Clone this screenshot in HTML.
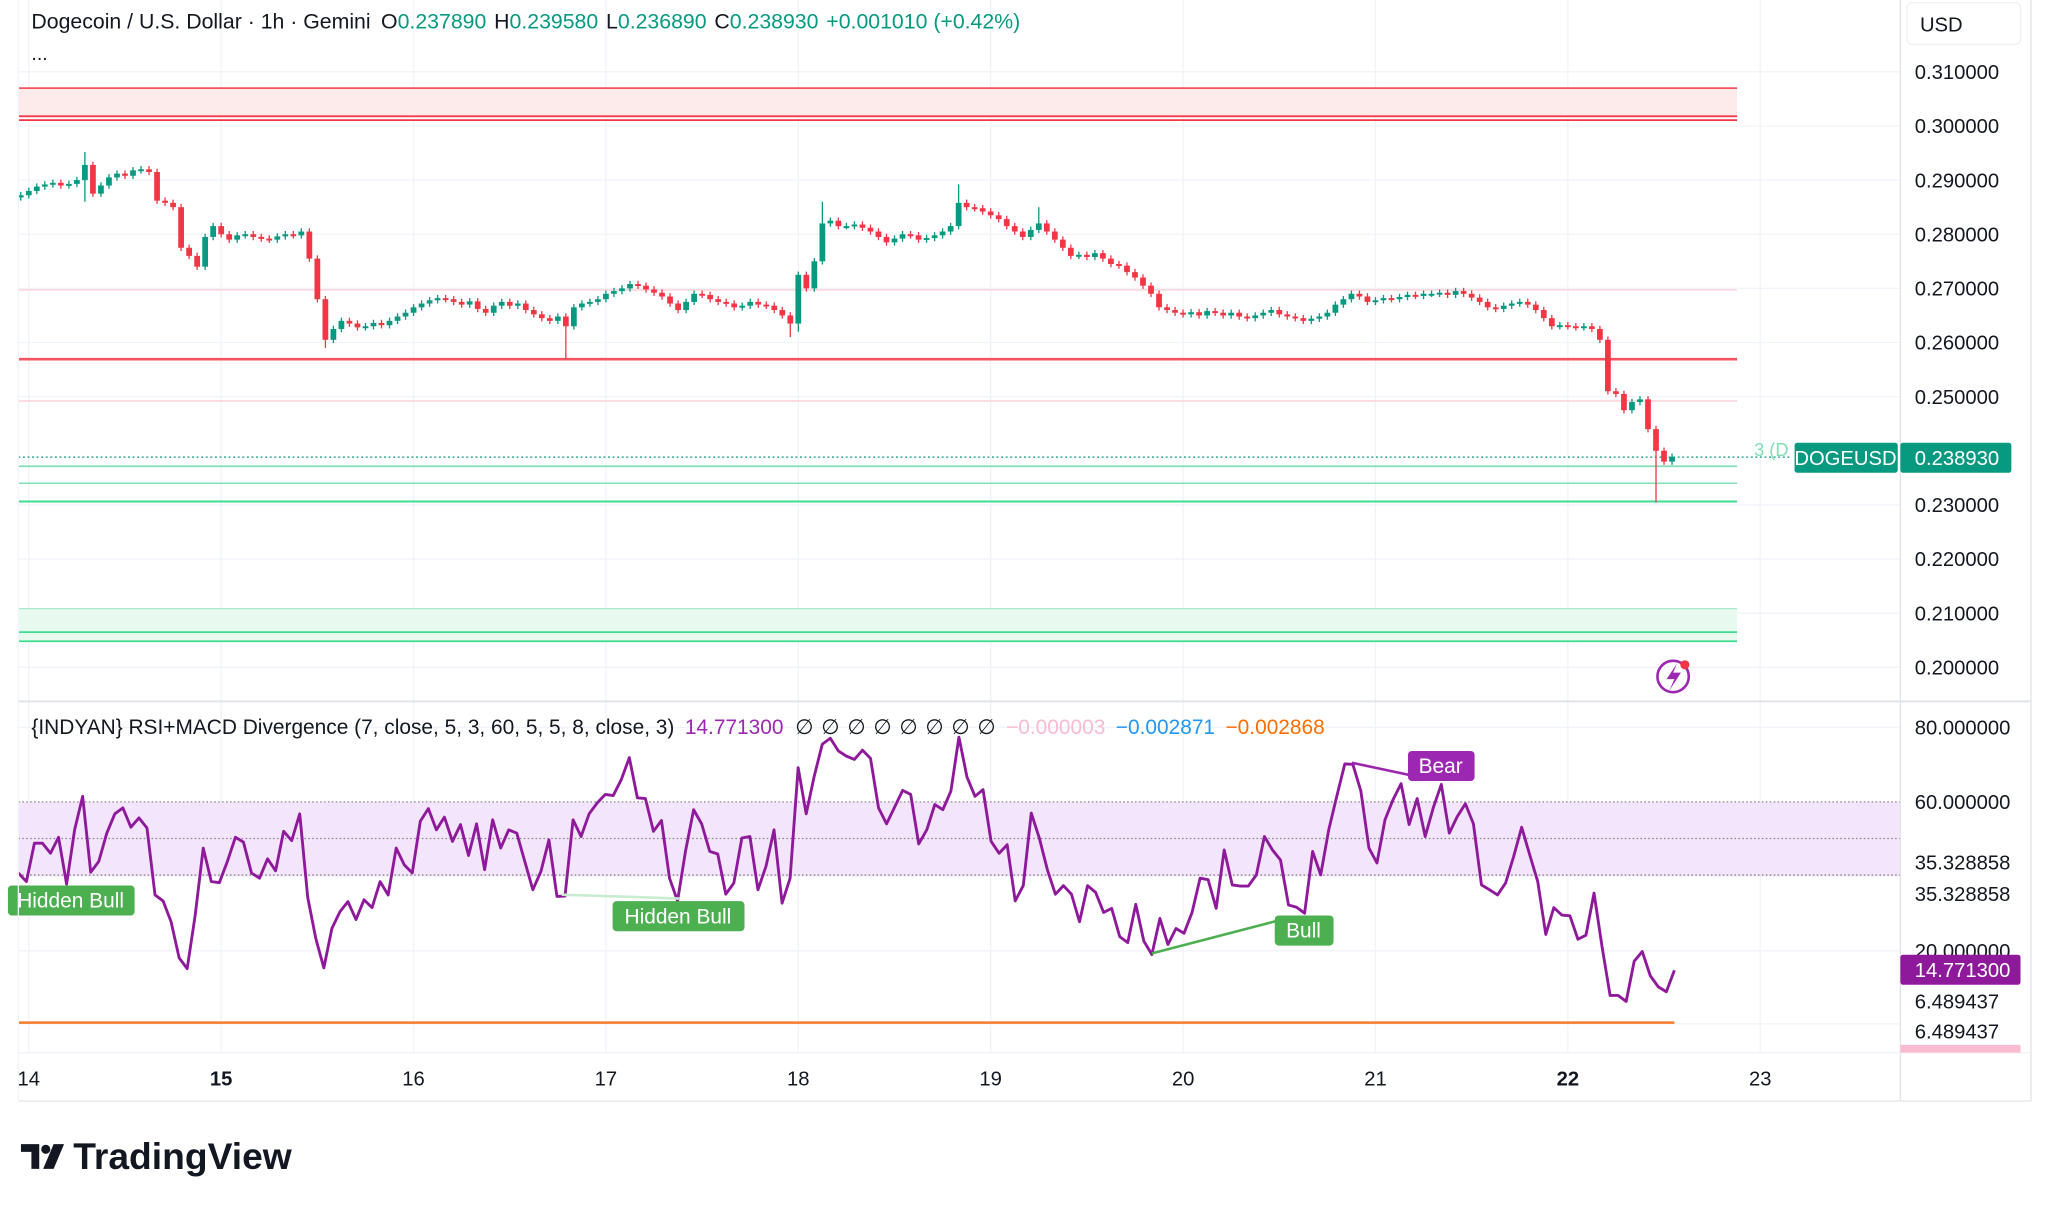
<!DOCTYPE html>
<html><head><meta charset="utf-8"><title>DOGEUSD chart</title>
<style>
html,body{margin:0;padding:0;background:#fff;}
svg{display:block;font-family:"Liberation Sans",sans-serif;}
</style></head>
<body>
<svg id="chart" width="2048" height="1209" viewBox="0 0 1568 925.7" xmlns="http://www.w3.org/2000/svg">
<rect x="0" y="0" width="1568" height="926" fill="#ffffff"/>
<g id="grid"></g>
<g id="levels">
  <rect x="14" y="67" width="1316" height="23" fill="#fdeaea"/>
  <line x1="14" y1="67.5" x2="1330" y2="67.5" stroke="#f7525f" stroke-width="1.3"/>
  <line x1="14" y1="89" x2="1330" y2="89" stroke="#f23645" stroke-width="1.3"/>
  <line x1="14" y1="92" x2="1330" y2="92" stroke="#f23645" stroke-width="1.3"/>
  <line x1="14" y1="222" x2="1330" y2="222" stroke="#fbd5d8" stroke-width="1.3"/>
  <line x1="14" y1="275" x2="1330" y2="275" stroke="#f7525f" stroke-width="2"/>
  <line x1="14" y1="307" x2="1330" y2="307" stroke="#fbd5d8" stroke-width="1.3"/>
  <line x1="14" y1="350" x2="1372" y2="350" stroke="#089981" stroke-width="1" stroke-dasharray="1.5,2"/>
  <line x1="14" y1="357" x2="1330" y2="357" stroke="#7fe0b4" stroke-width="1.3"/>
  <line x1="14" y1="370" x2="1330" y2="370" stroke="#7fe0b4" stroke-width="1.1"/>
  <line x1="14" y1="384" x2="1330" y2="384" stroke="#3ddc8f" stroke-width="1.5"/>
  <rect x="14" y="466" width="1316" height="25" fill="#e8f9ef"/>
  <line x1="14" y1="466" x2="1330" y2="466" stroke="#a6ecc8" stroke-width="1"/>
  <line x1="14" y1="484" x2="1330" y2="484" stroke="#3ddc8f" stroke-width="1.3"/>
  <line x1="14" y1="491" x2="1330" y2="491" stroke="#3ddc8f" stroke-width="1.3"/>
</g>
<g id="candles"></g>
<g id="indicator">
  <rect x="14" y="614" width="1441" height="57" fill="#f3e5fc"/>
  <line x1="14" y1="614" x2="1455" y2="614" stroke="#888" stroke-width="1" stroke-dasharray="1.2,1.8"/>
  <line x1="14" y1="642" x2="1455" y2="642" stroke="#888" stroke-width="1" stroke-dasharray="1.2,1.8"/>
  <line x1="14" y1="670" x2="1455" y2="670" stroke="#888" stroke-width="1" stroke-dasharray="1.2,1.8"/>
  <line x1="14" y1="783" x2="1282" y2="783" stroke="#f57c2c" stroke-width="2"/>
</g>
<g id="rsi"></g>
<g id="annotations">
  <line x1="430" y1="685" x2="520" y2="688" stroke="#c8ecd0" stroke-width="2"/>
  <line x1="882" y1="730" x2="978" y2="705" stroke="#4caf50" stroke-width="2"/>
  <line x1="1035" y1="584" x2="1082" y2="594" stroke="#9c27b0" stroke-width="2"/>
  <g><rect x="6" y="678" width="97" height="23" rx="3" fill="#4caf50"/><text x="54" y="695" font-size="16" fill="#fff" text-anchor="middle">Hidden Bull</text></g>
  <g><rect x="469" y="690" width="101" height="23" rx="3" fill="#4caf50"/><text x="519" y="707" font-size="16" fill="#fff" text-anchor="middle">Hidden Bull</text></g>
  <g><rect x="976" y="701" width="45" height="23" rx="3" fill="#4caf50"/><text x="998" y="718" font-size="16" fill="#fff" text-anchor="middle">Bull</text></g>
  <g><rect x="1078" y="575" width="51" height="23" rx="3" fill="#9c27b0"/><text x="1103" y="592" font-size="16" fill="#fff" text-anchor="middle">Bear</text></g>
</g>
<line x1="14" y1="537" x2="1555" y2="537" stroke="#e0e3eb" stroke-width="1.5"/>
<line x1="1455" y1="0" x2="1455" y2="843" stroke="#e0e3eb" stroke-width="1"/>
<line x1="1555" y1="0" x2="1555" y2="843" stroke="#e0e3eb" stroke-width="1"/>
<line x1="14" y1="806" x2="1555" y2="806" stroke="#f0f3fa" stroke-width="1"/>
<line x1="14" y1="843" x2="1555" y2="843" stroke="#e0e3eb" stroke-width="1"/>
<line x1="14" y1="0" x2="14" y2="843" stroke="#f0f3fa" stroke-width="1"/>
<g id="axes"></g>
<text x="24" y="22" font-size="16.3" fill="#131722">Dogecoin / U.S. Dollar · 1h · Gemini<tspan dx="8">O</tspan><tspan fill="#089981">0.237890</tspan><tspan dx="6">H</tspan><tspan fill="#089981">0.239580</tspan><tspan dx="6">L</tspan><tspan fill="#089981">0.236890</tspan><tspan dx="6">C</tspan><tspan fill="#089981">0.238930</tspan><tspan dx="6" fill="#089981">+0.001010 (+0.42%)</tspan></text>
<text x="24" y="46" font-size="15" fill="#131722">...</text>
<g><rect x="1460" y="2" width="87" height="32" rx="4" fill="#fff" stroke="#eef0f3"/><text x="1470" y="24" font-size="15.5" fill="#131722">USD</text></g>
<text x="24" y="562" font-size="16" fill="#131722">{INDYAN} RSI+MACD Divergence (7, close, 5, 3, 60, 5, 5, 8, close, 3)<tspan dx="8" fill="#9c27b0">14.771300</tspan><tspan dx="9">∅</tspan><tspan dx="6">∅</tspan><tspan dx="6">∅</tspan><tspan dx="6">∅</tspan><tspan dx="6">∅</tspan><tspan dx="6">∅</tspan><tspan dx="6">∅</tspan><tspan dx="6">∅</tspan><tspan dx="8" fill="#f8bbd0">−0.000003</tspan><tspan dx="8" fill="#2196f3">−0.002871</tspan><tspan dx="8" fill="#ff6d00">−0.002868</tspan></text>
<text x="1343" y="349" font-size="14" fill="#7fe0b4">3 (D</text>
<g><rect x="1374" y="339" width="79" height="23" rx="2" fill="#089981"/><text x="1413" y="356" font-size="15.5" fill="#fff" text-anchor="middle">DOGEUSD</text><rect x="1455" y="339" width="85" height="23" rx="2" fill="#089981"/><text x="1466" y="356" font-size="15.5" fill="#fff">0.238930</text></g>
<g><rect x="1455" y="731" width="92" height="23" rx="2" fill="#8e1a9b"/><text x="1466" y="748" font-size="15.5" fill="#fff">14.771300</text></g>
<rect x="1455" y="800" width="92" height="6" fill="#f8bbd0"/>
<g><circle cx="1281" cy="518" r="12" fill="none" stroke="#9c27b0" stroke-width="2"/><path d="M1284 508 L1276 520 L1282 520 L1278 529 L1287 515 L1281 515 Z" fill="#9c27b0"/><circle cx="1290" cy="509" r="3.5" fill="#f23645"/></g>
<g><path d="M16 876 H30 V895 H24 V882 H16 Z" fill="#131722"/><circle cx="35" cy="880" r="3.5" fill="#131722"/><path d="M41 876 H49 L41 895 H33 Z" fill="#131722"/><text x="56" y="895" font-size="28.5" font-weight="bold" fill="#131722">TradingView</text></g>
<script>
const closes=[.2872,.2880,.2888,.2892,.2895,.2890,.2893,.2900,.2928,.2875,
.2890,.2905,.2912,.2908,.2918,.2920,.2915,.2862,.2858,.2850,
.2775,.2760,.2740,.2795,.2815,.2800,.2790,.2798,.2800,.2795,
.2792,.2790,.2796,.2800,.2798,.2805,.2755,.2680,.2605,.2625,
.2640,.2635,.2628,.2630,.2636,.2632,.2640,.2648,.2655,.2665,
.2672,.2678,.2682,.2680,.2675,.2670,.2676,.2662,.2655,.2668,
.2675,.2668,.2672,.2660,.2652,.2645,.2640,.2648,.2630,.2665,
.2672,.2675,.2680,.2690,.2695,.2700,.2708,.2705,.2698,.2692,
.2685,.2672,.2660,.2675,.2690,.2688,.2680,.2675,.2672,.2665,
.2668,.2675,.2670,.2668,.2660,.2650,.2635,.2725,.2700,.2750,
.2820,.2825,.2815,.2815,.2818,.2812,.2805,.2795,.2785,.2792,
.2800,.2798,.2790,.2793,.2798,.2805,.2815,.2858,.2850,.2848,
.2842,.2835,.2828,.2815,.2805,.2795,.2808,.2820,.2805,.2790,
.2775,.2760,.2762,.2758,.2765,.2755,.2745,.2742,.2730,.2720,
.2705,.2690,.2665,.2660,.2655,.2652,.2656,.2650,.2658,.2655,
.2650,.2655,.2648,.2645,.2650,.2655,.2660,.2652,.2648,.2645,
.2640,.2644,.2648,.2655,.2670,.2680,.2690,.2685,.2675,.2678,
.2682,.2680,.2684,.2688,.2686,.2690,.2690,.2692,.2688,.2695,
.2690,.2683,.2675,.2665,.2662,.2668,.2672,.2675,.2670,.2660,
.2645,.2630,.2632,.2630,.2628,.2630,.2625,.2605,.2510,.2505,
.2475,.2490,.2495,.2440,.2400,.2380,.2389];
const firstOpen=0.2868;
const lowSpikes={8:0.2860,38:0.2590,68:0.2570,96:0.2610,97:0.2620,204:0.2305};
const highSpikes={8:0.2952,100:0.2860,117:0.2892,127:0.2850};
const rsiValues=[40.9,38.6,48.9,48.9,46.2,50.5,37.9,52.5,61.5,41.1,44.0,51.6,56.8,58.4,53.2,55.7,53.0,35.0,33.4,27.8,
18.1,15.2,29.6,47.6,38.6,38.3,44.0,50.5,49.2,40.9,39.5,44.7,41.5,52.1,49.6,56.8,34.3,23.3,15.4,26.0,
30.5,33.2,28.4,33.7,31.6,38.6,35.0,47.6,43.1,40.9,54.8,58.2,52.5,55.9,49.4,53.9,45.6,54.1,41.8,55.2,
47.6,52.5,51.6,44.0,36.4,41.3,49.8,34.6,34.7,55.2,50.7,56.8,59.7,62.0,61.7,66.0,71.9,61.1,60.9,52.1,
55.0,39.5,33.4,46.9,57.9,54.1,46.7,46.0,35.2,38.2,50.3,50.7,36.4,42.7,52.5,32.8,39.5,69.2,56.8,66.9,
75.5,77.1,73.7,72.3,71.4,73.9,71.7,58.4,54.1,58.6,63.1,62.0,48.7,52.5,59.3,57.9,62.9,77.4,66.7,61.5,
63.3,49.4,46.2,48.5,33.4,37.5,57.0,50.3,41.8,35.2,37.5,35.2,27.8,37.5,35.7,30.3,31.4,23.8,22.2,32.5,
22.6,19.0,28.7,21.7,26.0,24.7,30.3,39.5,39.1,31.4,47.1,37.7,37.4,37.4,40.4,50.7,47.1,44.4,32.3,31.7,
30.1,46.7,40.4,52.5,61.5,70.2,70.1,62.9,47.6,43.6,55.2,60.6,64.9,53.9,60.9,50.7,58.4,64.7,51.6,56.1,
59.5,54.1,37.7,36.4,35.0,38.2,45.3,53.2,45.8,38.6,24.4,31.6,29.6,29.4,23.1,24.2,35.5,21.1,8.0,8.0,
6.4,17.2,19.8,13.3,10.3,9.0,14.77];
const priceTicks=[0.31,0.30,0.29,0.28,0.27,0.26,0.25,0.23,0.22,0.21,0.20];
const priceTickLabels=["0.310000","0.300000","0.290000","0.280000","0.270000","0.260000","0.250000","0.230000","0.220000","0.210000","0.200000"];
const rsiTickValues=[80,60,35.328858,20,6.489437];
const rsiTickLabels=["80.000000","60.000000","35.328858","20.000000","6.489437"];
const dayTicks=[14,15,16,17,18,19,20,21,22,23];
const dayBold=[15,22];

const NS="http://www.w3.org/2000/svg";
function yPrice(p){return 55+(0.31-p)*4145;}
function yRsi(v){return 785-v*2.85;}
function xDay(d){return 22+(d-14)*147.3;}
function xCandle(i){return xDay(14+(i-1)/24);}
function xRsi(j){return 14+j*(1282-14)/(rsiValues.length-1);}
function mk(tag,attrs,parent){const e=document.createElementNS(NS,tag);for(const k in attrs)e.setAttribute(k,attrs[k]);parent.appendChild(e);return e;}

const grid=document.getElementById('grid');
dayTicks.forEach(d=>{
  const l=mk('line',{x1:xDay(d),y1:0,x2:xDay(d),y2:806,stroke:'#f0f3fa','stroke-width':1},grid);
  
  
});
priceTicks.forEach(p=>{
  const l=mk('line',{x1:14,y1:yPrice(p),x2:1455,y2:yPrice(p),stroke:'#f0f3fa','stroke-width':1},grid);
  
  
});
[80,20,0].forEach(v=>{
  const l=mk('line',{x1:14,y1:yRsi(v)+(v===0?-1:0),x2:1455,y2:yRsi(v)+(v===0?-1:0),stroke:'#f0f3fa','stroke-width':1},grid);
  
  
});

const cg=document.getElementById('candles');
closes.forEach((c,i)=>{
  const o=i===0?firstOpen:closes[i-1];
  const up=c>=o;
  const col=up?'#089981':'#f23645';
  const hi=(highSpikes[i]!==undefined)?highSpikes[i]:Math.max(o,c)+0.0006;
  const lo=(lowSpikes[i]!==undefined)?lowSpikes[i]:Math.min(o,c)-0.0006;
  const x=xCandle(i);
  const g=mk('g',{},cg);
  
  
  mk('line',{x1:x,y1:yPrice(hi),x2:x,y2:yPrice(lo),stroke:col,'stroke-width':1},g);
  const yt=yPrice(Math.max(o,c)),yb=yPrice(Math.min(o,c));
  mk('rect',{x:x-2.2,y:yt,width:4.4,height:Math.max(1.5,yb-yt),fill:col},g);
});

const rg=document.getElementById('rsi');
const pts=rsiValues.map((v,j)=>xRsi(j).toFixed(2)+','+yRsi(v).toFixed(2)).join(' ');
const pl=mk('polyline',{points:pts,fill:'none',stroke:'#8e1a9b','stroke-width':2.2,'stroke-linejoin':'round'},rg);



const ax=document.getElementById('axes');
priceTicks.forEach((p,k)=>{
  const t=mk('text',{x:1466,y:yPrice(p)+5.5,'font-size':15.5,fill:'#131722'},ax);
  t.textContent=priceTickLabels[k];
  
  
});
const rsiLabelOffsets=[0,0,-24,0,0];
rsiTickValues.forEach((v,k)=>{
  const t=mk('text',{x:1466,y:yRsi(v)+5.5+rsiLabelOffsets[k],'font-size':15.5,fill:'#131722'},ax);
  t.textContent=rsiTickLabels[k];
  
  
});
const t2=mk('text',{x:1466,y:yRsi(rsiTickValues[2])+5.5,'font-size':15.5,fill:'#131722'},ax);
t2.textContent=rsiTickLabels[2];


const t3=mk('text',{x:1466,y:yRsi(rsiTickValues[4])+28.5,'font-size':15.5,fill:'#131722'},ax);
t3.textContent=rsiTickLabels[4];


dayTicks.forEach(d=>{
  const t=mk('text',{x:xDay(d),y:831,'font-size':15.5,fill:'#131722','text-anchor':'middle','font-weight':dayBold.includes(d)?'bold':'normal'},ax);
  t.textContent=String(d);
  
  
});
</script>
</svg>
</body></html>
